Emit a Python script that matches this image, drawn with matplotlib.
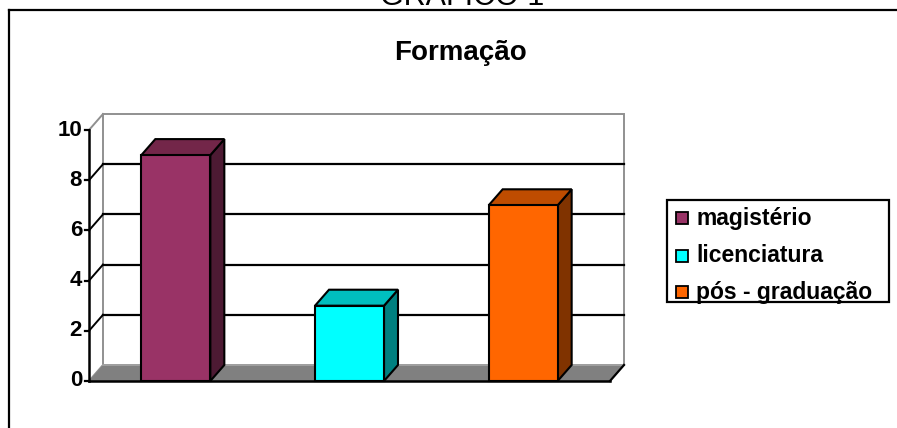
import matplotlib
matplotlib.use("Agg")
import matplotlib.pyplot as plt
from matplotlib.patches import Polygon, Rectangle
from matplotlib.lines import Line2D

plt.rcParams['font.family'] = ['Liberation Sans', 'DejaVu Sans']

# ---- data ----
categories = ["magistério", "licenciatura", "pós - graduação"]
values = [9, 3, 7]
yticks = [0, 2, 4, 6, 8, 10]
title = "Formação"
header = "GRÁFICO 1"

# ---- styles ----
front_colors = ["#993366", "#00FFFF", "#FF6600"]
top_colors = ["#732649", "#00BFBF", "#BF4C00"]
side_colors = ["#4D1A33", "#008080", "#803300"]

W, H = 897, 428
fig = plt.figure(figsize=(W / 100, H / 100), dpi=100)

# outer frame (in figure pixels)
fig.add_artist(Line2D([9 / W, 9 / W], [0, (H - 10) / H], color="black", lw=1.6,
                      transform=fig.transFigure))
fig.add_artist(Line2D([9 / W, 1.0], [(H - 10) / H, (H - 10) / H], color="black", lw=1.6,
                      transform=fig.transFigure))
fig.text(462 / W, (H - 5) / H, header, ha="center", va="baseline", fontsize=22)
fig.text(460 / W, (H - 53) / H, title, ha="center", va="center", fontsize=20,
         fontweight="bold")

# plot area: front axis from x=89..610 px, y 0->381 px, 10->130 px
ax = fig.add_axes([89 / W, (H - 381) / H, (610 - 89) / W, (381 - 130) / H])
ax.set_xlim(-0.5, 2.5)
ax.set_ylim(0, 10)
ax.axis("off")

ymax = max(yticks)
dx = 14 / (521 / 3)      # depth offset in x data units
dy = 16 / (251 / 10)     # depth offset in y data units
x0, x1 = -0.5, 2.5

# back wall
ax.add_patch(Polygon([(x0 + dx, dy), (x1 + dx, dy), (x1 + dx, ymax + dy), (x0 + dx, ymax + dy)],
                     closed=True, facecolor="white", edgecolor="#909090", lw=1.4,
                     clip_on=False, zorder=1))
# gridlines on back wall + diagonals on the left side
for t in yticks:
    if 0 < t < ymax:
        ax.plot([x0 + dx, x1 + dx], [t + dy, t + dy], color="black", lw=1.6,
                clip_on=False, zorder=2)
    col = "#909090" if t in (0, ymax) else "black"
    ax.plot([x0, x0 + dx], [t, t + dy], color=col, lw=1.4, clip_on=False, zorder=2)

# floor
ax.add_patch(Polygon([(x0, 0), (x1, 0), (x1 + dx, dy), (x0 + dx, dy)], closed=True,
                     facecolor="#808080", edgecolor="none", clip_on=False, zorder=3))
ax.plot([x1 + dx, x0 + dx], [dy, dy], color="#A0A0A0", lw=1.4, clip_on=False, zorder=3)
ax.plot([x1, x1 + dx], [0, dy], color="black", lw=1.6, clip_on=False, zorder=3)

# front axis
ax.plot([x0, x1], [0, 0], color="black", lw=1.8, clip_on=False, zorder=4)
ax.plot([x0, x0], [0, ymax], color="black", lw=1.8, clip_on=False, zorder=4)
for t in yticks:
    ax.plot([x0 - 0.025, x0], [t, t], color="black", lw=1.6, clip_on=False, zorder=4)
    ax.text(x0 - 0.04, t, str(t), ha="right", va="center", fontsize=16,
            fontweight="bold", clip_on=False)

# bars
bw = 69 / (521 / 3)
for i, v in enumerate(values):
    l, r = i - bw / 2, i + bw / 2
    ax.add_patch(Polygon([(r, 0), (r + dx, dy), (r + dx, v + dy), (r, v)], closed=True,
                         facecolor=side_colors[i], edgecolor="black", lw=1.5,
                         clip_on=False, zorder=5, joinstyle="miter"))
    ax.add_patch(Polygon([(l, v), (r, v), (r + dx, v + dy), (l + dx, v + dy)], closed=True,
                         facecolor=top_colors[i], edgecolor="black", lw=1.5,
                         clip_on=False, zorder=5, joinstyle="miter"))
    ax.add_patch(Rectangle((l, 0), bw, v, facecolor=front_colors[i], edgecolor="black",
                           lw=1.5, clip_on=False, zorder=6, joinstyle="miter"))

# legend (drawn in figure pixel coords)
fig.add_artist(Rectangle((667 / W, (H - 302) / H), (889 - 667) / W, (302 - 200) / H,
                         facecolor="white", edgecolor="black", lw=1.6,
                         transform=fig.transFigure))
rows_y = [218, 256, 292]
for i, name in enumerate(categories):
    yy = rows_y[i]
    fig.add_artist(Rectangle((676 / W, (H - yy - 6) / H), 12 / W, 12 / H,
                             facecolor=front_colors[i], edgecolor="black", lw=1.3,
                             transform=fig.transFigure))
    fig.text(696 / W, (H - yy) / H, name, ha="left", va="center", fontsize=16.5,
             fontweight="bold")

fig.savefig("out.png", dpi=100)
